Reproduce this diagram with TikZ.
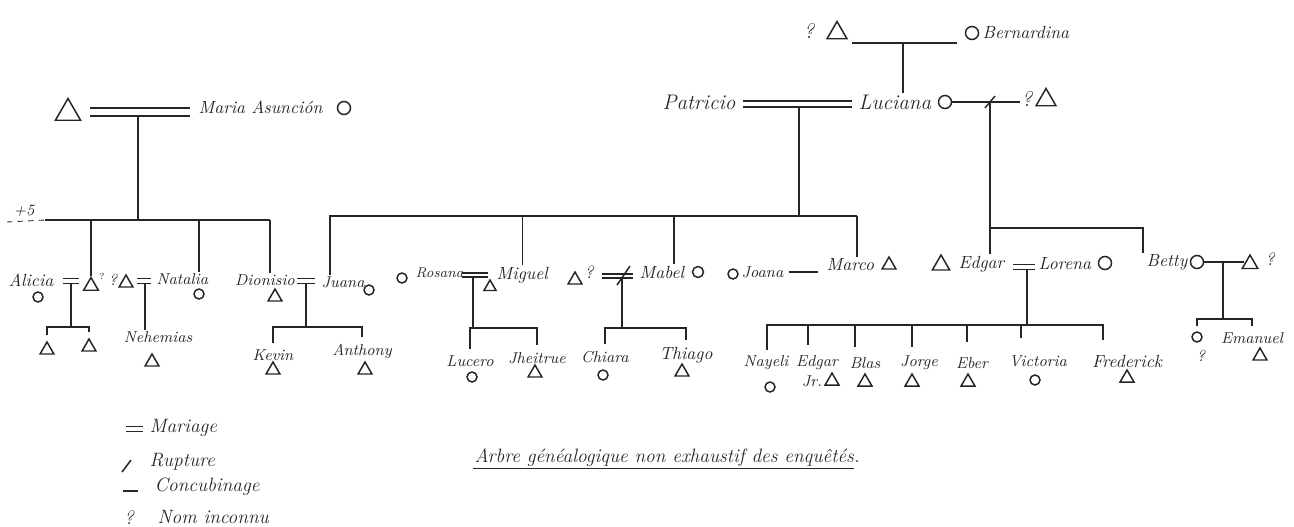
\documentclass[tikz,border=0pt]{standalone}
\usepackage{fontspec}
\usetikzlibrary{shapes.geometric}
\tikzset{
    homme/.style={draw, regular polygon, regular polygon sides=3, inner sep=0pt, minimum size=#1},
    homme/.default=3.2mm,
    femme/.style={draw, circle, inner sep=0pt, minimum size=#1},
    femme/.default=2mm,
    nom/.style={font=\normalsize\itshape, inner sep=0.5pt},
    petit/.style={font=\small\itshape, inner sep=0.5pt},
    grand/.style={font=\large\itshape, inner sep=0.5pt},
    legende/.style={font=\fontsize{11}{13}\selectfont\itshape, inner sep=0.5pt},
    mariage/.style={double, double distance=#1},
    mariage/.default=2pt,
    fratrie/.style={shorten <=3pt, shorten >=3pt},
}

\begin{document}
\begin{tikzpicture}[x=0.02cm, y=-0.02cm, line width=0.85pt, color=black!85]

    \useasboundingbox (0,0) rectangle (1294,527);

    % ==========================================
    % 1. Grands-parents (en haut a droite)
    % ==========================================
    \node[grand] (qGpa) at (809,31) {?};
    \node[homme=4.6mm] (gpa) at (837,33) {};
    \node[femme=2.6mm] (gmaC) at (972,33) {};
    \node[nom, anchor=west] (gma) at (981,33) {Bernardina};
    \coordinate (gpW) at (852,43);
    \coordinate (gpE) at (957,43);
    \coordinate (gpM) at (903,43);
    \draw (gpW) -- (gpE);

    % Patricio = Luciana, puis Luciana -/- ?
    \node[grand, anchor=east] (patricio) at (737,102) {Patricio};
    \node[grand, anchor=west] (luciana) at (857,102) {Luciana};
    \node[femme=2.6mm] (lucianaC) at (945,102) {};
    \draw (gpM) -- (gpM |- luciana.north);
    \coordinate (plW) at (743,104);
    \coordinate (plE) at (852,104);
    \coordinate (plM) at (799,106);
    \draw[mariage=2.5pt] (plW) -- (plE);

    \node[grand] (qLx) at (1027,99) {?};
    \node[homme=4.6mm] (lx) at (1046,100) {};
    \draw (lucianaC.east) -- (lucianaC.east -| qLx.west);
    \coordinate (lxM) at (990,102);
    \draw ([shift={(-5,6)}]lxM) -- ([shift={(5,-6)}]lxM);

    % ==========================================
    % 2. Maria Asuncion (en haut a gauche)
    % ==========================================
    \node[homme=5.8mm] (mAh) at (68,113) {};
    \coordinate (maW) at (90,112);
    \coordinate (maE) at (190,112);
    \coordinate (maM) at (138,116);
    \draw[mariage=3.5pt] (maW) -- (maE);
    \node[nom, anchor=west] (maria) at (197,107) {Maria Asunción};
    \node[femme=2.6mm] (mariaC) at (344,108) {};

    % fratrie (+5)
    \node[petit] (plus) at (24,211) {+5};
    \coordinate (g2D) at (7,222);
    \coordinate (g2W) at (45,220);
    \coordinate (g2E) at (270,220);
    \draw[dashed, line width=0.5pt] (g2D) -- (g2W);
    \draw (g2W) -- (g2E);
    \draw (maM) -- (maM |- g2W);

    % Alicia = ?
    \node[nom, anchor=west] (alicia) at (7,280) {Alicia};
    \node[femme] (aliciaC) at (38,297) {};
    \coordinate (alW) at (63,281);
    \coordinate (alE) at (79,281);
    \coordinate (alM) at (71,283);
    \draw[mariage=1.8pt] (alW) -- (alE);
    \node[homme=3.4mm] (ailH) at (91,286) {};
    \node[font=\tiny] (ailQ) at (102,276) {?};
    \draw (g2W -| ailH) -- (ailH.north);
    \coordinate (alB) at (71,327);
    \node[homme] (alK1) at (47,350) {};
    \node[homme] (alK2) at (89,347) {};
    \draw (alM) -- (alB);
    \draw[fratrie] (alK1.north) |- (alB) -| (alK2.north);

    % ? = Natalia
    \node[petit] (qNat) at (113,280) {?};
    \node[homme] (natH) at (126,283) {};
    \coordinate (naW) at (137,281);
    \coordinate (naE) at (151,281);
    \coordinate (naM) at (145,283);
    \draw[mariage=1.8pt] (naW) -- (naE);
    \node[petit, anchor=west] (natalia) at (155,279) {Natalia};
    \node[femme] (nataliaC) at (199,294) {};
    \draw (g2W -| nataliaC) -- (natalia.north -| nataliaC);
    \node[petit] (nehemias) at (158,337) {Nehemias};
    \node[homme] (nehemiasH) at (152,362) {};
    \draw (naM) -- (naM |- nehemias.north);

    % Dionisio = Juana
    \node[petit] (dionisio) at (265,280) {Dionisio};
    \node[homme] (dionisioH) at (275,297) {};
    \draw (g2E) -- (g2E |- dionisio.north);
    \coordinate (djW) at (297,281);
    \coordinate (djE) at (315,281);
    \coordinate (djM) at (306,284);
    \draw[mariage=2pt] (djW) -- (djE);
    \node[petit, anchor=west] (juana) at (320,282) {Juana};
    \node[femme] (juanaC) at (369,290) {};
    \coordinate (djB) at (306,327);
    \node[petit] (kevin) at (273,355) {Kevin};
    \node[homme] (kevinH) at (273,370) {};
    \node[petit] (anthony) at (362,351) {Anthony};
    \node[homme] (anthonyH) at (365,370) {};
    \draw (djM) -- (djB);
    \draw[fratrie] (kevin.north) |- (djB) -| (anthony.north);

    % ==========================================
    % 3. Enfants de Patricio et Luciana
    % ==========================================
    \coordinate (g2bW) at (330,216);
    \coordinate (g2bE) at (857,216);
    \draw (plM) -- (plM |- g2bW);
    \draw (g2bW |- juana.north) -- (g2bW) -- (g2bE);

    % Rosana = Miguel
    \node[femme] (rosanaC) at (402,278) {};
    \node[font=\footnotesize\itshape, inner sep=0.5pt, anchor=west] (rosana) at (414,273) {Rosana};
    \coordinate (rmW) at (462,275);
    \coordinate (rmE) at (488,275);
    \coordinate (rmM) at (473,277);
    \draw[mariage=1.5pt] (rmW) -- (rmE);
    \node[homme=2.8mm] (miguelH) at (490,287) {};
    \node[nom, anchor=west] (miguel) at (495,275) {Miguel};
    \draw (g2bW -| miguel) -- (miguel.north);
    \coordinate (rmB) at (473,328);
    \node[petit] (lucero) at (470,361) {Lucero};
    \node[femme] (luceroC) at (472,377) {};
    \node[petit] (jheitrue) at (537,358) {Jheitrue};
    \node[homme] (jheitrueH) at (535,373) {};
    \draw (rmM) -- (rmB);
    \draw[fratrie] (lucero.north) |- (rmB) -| (jheitrue.north);

    % ? -/- Mabel
    \node[homme] (mabelH) at (575,280) {};
    \node[nom] (qMab) at (589,272) {?};
    \coordinate (mbW) at (602,276);
    \coordinate (mbE) at (633,276);
    \coordinate (mbM) at (622,278);
    \draw[mariage=1.5pt] (mbW) -- (mbE);
    \draw ([shift={(-5,7)}]mbM) -- ([shift={(8,-12)}]mbM);
    \node[nom, anchor=west] (mabel) at (638,272) {Mabel};
    \node[femme=2.2mm] (mabelC) at (698,272) {};
    \coordinate (mabTop) at (674,216);
    \draw (mabTop) -- (mabTop |- mabel.north);
    \coordinate (mbB) at (622,328);
    \node[petit] (chiara) at (605,357) {Chiara};
    \node[femme] (chiaraC) at (603,375) {};
    \node[nom] (thiago) at (686,355) {Thiago};
    \node[homme] (thiagoH) at (682,372) {};
    \draw (mbM) -- (mbB);
    \draw[fratrie] (chiara.north) |- (mbB) -| (thiago.north);

    % Joana -- Marco
    \node[femme] (joanaC) at (733,274) {};
    \node[petit, anchor=west] (joana) at (740,272) {Joana};
    \node[nom, anchor=west] (marco) at (825,265) {Marco};
    \node[homme] (marcoH) at (889,265) {};
    \draw[shorten <=2pt, shorten >=4pt] (joana.east) -- (joana.east -| marco.west);
    \draw (g2bE) -- (g2bE |- marco.north);

    % ==========================================
    % 4. Enfants de Luciana et ?
    % ==========================================
    \node[homme=4mm] (edgarH) at (941,265) {};
    \node[nom, anchor=west] (edgar) at (957,264) {Edgar};
    \coordinate (elW) at (1013,267);
    \coordinate (elE) at (1035,267);
    \coordinate (elM) at (1027,269);
    \draw[mariage=1.8pt] (elW) -- (elE);
    \node[nom, anchor=west] (lorena) at (1037,264) {Lorena};
    \node[femme=2.6mm] (lorenaC) at (1105,263) {};
    \draw (lxM) -- (lxM |- edgar.north);

    \coordinate (lbJ) at (990,228);
    \coordinate (bettyD) at (1143,228);
    \node[nom, anchor=west] (betty) at (1145,262) {Betty};
    \draw (lbJ) -- (bettyD) -- (bettyD |- betty.north);

    % enfants d'Edgar et Lorena
    \coordinate (elB) at (1027,325);
    \node[petit] (nayeli) at (766,363) {Nayeli};
    \node[femme] (nayeliC) at (770,387) {};
    \node[petit] (edgarjr) at (817,363) {Edgar};
    \node[petit] (jr) at (812,381) {Jr.};
    \node[homme] (edgarjrH) at (832,381) {};
    \node[petit] (blas) at (865,363) {Blas};
    \node[homme] (blasH) at (865,382) {};
    \node[petit] (jorge) at (919,363) {Jorge};
    \node[homme] (jorgeH) at (912,382) {};
    \node[petit] (eber) at (972,363) {Eber};
    \node[homme] (eberH) at (968,382) {};
    \node[petit] (victoria) at (1038,361) {Victoria};
    \node[femme] (victoriaC) at (1035,380) {};
    \node[nom] (frederick) at (1127,361) {Frederick};
    \node[homme] (frederickH) at (1127,378) {};

    \coordinate (dNayeli) at (767,350);
    \coordinate (dEdgarjr) at (808,345);
    \coordinate (dBlas) at (855,347);
    \coordinate (dJorge) at (912,347);
    \coordinate (dEber) at (967,342);
    \coordinate (dVictoria) at (1021,338);
    \coordinate (dFrederick) at (1103,340);
    \draw (elM) -- (elB);
    \draw (dNayeli) -- (dNayeli |- elB) -- (dFrederick |- elB) -- (dFrederick);
    \draw (dEdgarjr |- elB) -- (dEdgarjr);
    \draw (dBlas |- elB) -- (dBlas);
    \draw (dJorge |- elB) -- (dJorge);
    \draw (dEber |- elB) -- (dEber);
    \draw (dVictoria |- elB) -- (dVictoria);

    % Betty -- ?
    \node[femme=2.6mm] (bettyC) at (1197,262) {};
    \node[homme=3.6mm] (bettyH) at (1250,264) {};
    \node[nom] (qBet) at (1270,259) {?};
    \draw (bettyC.east) -- (bettyC.east -| bettyH.west);
    \coordinate (bhM) at (1223,262);
    \coordinate (bhB) at (1223,319);
    \node[femme] (bk1C) at (1197,337) {};
    \node[petit] (bk1Q) at (1201,356) {?};
    \node[petit] (emanuel) at (1252,338) {Emanuel};
    \node[homme] (emanuelH) at (1260,356) {};
    \draw (bhM) -- (bhB);
    \draw[fratrie] (bk1C.north) |- (bhB) -| (emanuel.north);

    % ==========================================
    % 5. Legende et titre
    % ==========================================
    \coordinate (lgM1) at (126,429);
    \coordinate (lgM2) at (143,429);
    \draw[mariage=2pt] (lgM1) -- (lgM2);
    \node[legende, anchor=west] (lgMar) at (148,428) {Mariage};
    \coordinate (lgR1) at (122,472);
    \coordinate (lgR2) at (131,460);
    \draw (lgR1) -- (lgR2);
    \node[legende, anchor=west] (lgRup) at (148,462) {Rupture};
    \coordinate (lgC1) at (123,491);
    \coordinate (lgC2) at (138,491);
    \draw (lgC1) -- (lgC2);
    \node[legende, anchor=west] (lgCon) at (153,487) {Concubinage};
    \node[legende] (lgQ) at (129,518) {?};
    \node[legende, anchor=west] (lgNom) at (156,517) {Nom inconnu};

    \node[legende, anchor=west] (titre) at (473,458) {Arbre généalogique non exhaustif des enquêtés.};
    \draw[shorten >=4pt] (titre.south west) -- (titre.south east);

\end{tikzpicture}
\end{document}
